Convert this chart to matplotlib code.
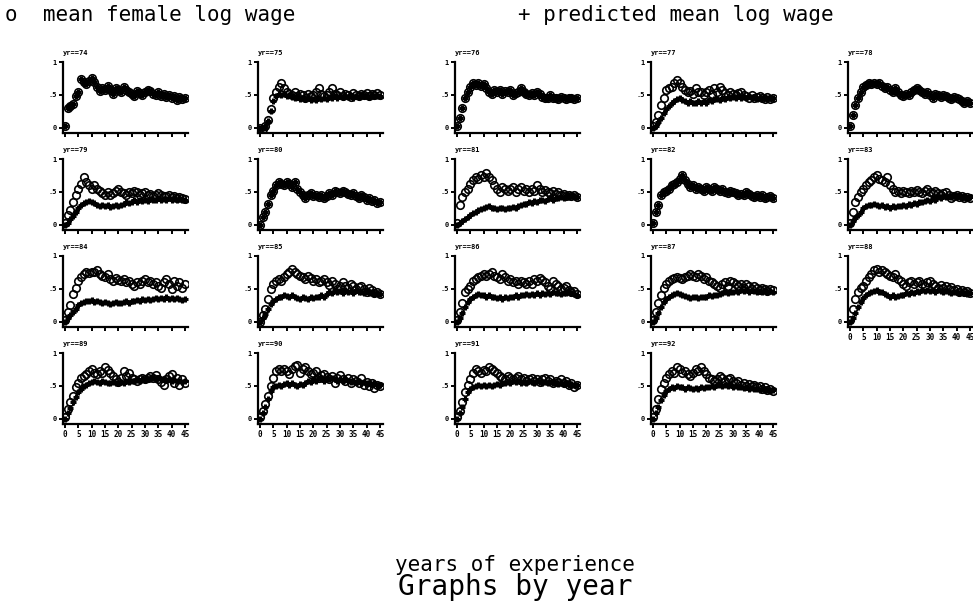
import matplotlib.pyplot as plt

experience = list(range(46))
years = [74, 75, 76, 77, 78, 79, 80, 81, 82, 83, 84, 85, 86, 87, 88, 89, 90, 91, 92]

# mean female log wage (circles) and predicted mean log wage (plus), by experience 0..45
wage_74 = [0.02, 0.30, 0.33, 0.36, 0.48, 0.55, 0.74, 0.69, 0.67, 0.71, 0.76, 0.70, 0.62, 0.56, 0.60, 0.57,
           0.63, 0.58, 0.52, 0.60, 0.57, 0.54, 0.62, 0.58, 0.55, 0.52, 0.48, 0.56, 0.53, 0.50, 0.55, 0.58,
           0.56, 0.52, 0.50, 0.54, 0.49, 0.51, 0.47, 0.50, 0.45, 0.49, 0.42, 0.47, 0.44, 0.46]
pred_74 = wage_74
wage_75 = [0.00, -0.02, 0.02, 0.12, 0.28, 0.45, 0.55, 0.62, 0.68, 0.60, 0.55, 0.52, 0.50, 0.55, 0.48, 0.52,
           0.50, 0.46, 0.52, 0.48, 0.50, 0.55, 0.60, 0.52, 0.48, 0.50, 0.55, 0.60, 0.52, 0.50, 0.54, 0.48,
           0.52, 0.50, 0.47, 0.53, 0.50, 0.48, 0.52, 0.50, 0.53, 0.48, 0.52, 0.50, 0.53, 0.50]
pred_75 = [0.00, 0.00, 0.02, 0.10, 0.25, 0.40, 0.48, 0.52, 0.50, 0.52, 0.48, 0.50, 0.47, 0.45, 0.48, 0.44,
           0.46, 0.43, 0.45, 0.42, 0.44, 0.42, 0.45, 0.43, 0.46, 0.44, 0.47, 0.45, 0.48, 0.46, 0.48, 0.47,
           0.49, 0.47, 0.48, 0.46, 0.49, 0.47, 0.50, 0.48, 0.49, 0.47, 0.50, 0.48, 0.49, 0.48]
wage_76 = [0.02, 0.15, 0.30, 0.45, 0.55, 0.62, 0.68, 0.65, 0.68, 0.64, 0.67, 0.60, 0.55, 0.52, 0.57, 0.55,
           0.58, 0.52, 0.56, 0.54, 0.57, 0.50, 0.53, 0.55, 0.60, 0.55, 0.52, 0.50, 0.53, 0.50, 0.55, 0.52,
           0.47, 0.45, 0.45, 0.50, 0.46, 0.45, 0.44, 0.47, 0.45, 0.44, 0.45, 0.46, 0.44, 0.45]
pred_76 = wage_76
wage_77 = [0.02, 0.08, 0.20, 0.35, 0.45, 0.58, 0.60, 0.62, 0.68, 0.72, 0.68, 0.62, 0.58, 0.55, 0.56, 0.52,
           0.60, 0.54, 0.55, 0.50, 0.55, 0.58, 0.52, 0.60, 0.55, 0.62, 0.58, 0.53, 0.50, 0.55, 0.52, 0.50,
           0.53, 0.55, 0.50, 0.48, 0.46, 0.50, 0.45, 0.47, 0.48, 0.45, 0.43, 0.47, 0.44, 0.46]
pred_77 = [0.00, 0.03, 0.08, 0.15, 0.22, 0.28, 0.33, 0.38, 0.41, 0.43, 0.45, 0.42, 0.40, 0.38, 0.40, 0.37,
           0.38, 0.40, 0.37, 0.40, 0.38, 0.42, 0.40, 0.43, 0.44, 0.42, 0.45, 0.43, 0.47, 0.45, 0.47, 0.46,
           0.48, 0.45, 0.47, 0.46, 0.48, 0.45, 0.47, 0.44, 0.46, 0.45, 0.47, 0.44, 0.46, 0.45]
wage_78 = [0.02, 0.20, 0.35, 0.45, 0.55, 0.62, 0.65, 0.68, 0.66, 0.68, 0.66, 0.68, 0.64, 0.60, 0.62, 0.58,
           0.55, 0.60, 0.55, 0.50, 0.48, 0.52, 0.50, 0.55, 0.58, 0.60, 0.57, 0.55, 0.52, 0.54, 0.50, 0.46,
           0.52, 0.50, 0.47, 0.50, 0.48, 0.46, 0.44, 0.47, 0.45, 0.43, 0.40, 0.38, 0.40, 0.38]
pred_78 = wage_78
wage_79 = [0.02, 0.15, 0.22, 0.35, 0.45, 0.55, 0.62, 0.72, 0.65, 0.60, 0.55, 0.60, 0.55, 0.52, 0.48, 0.45,
           0.50, 0.46, 0.48, 0.52, 0.55, 0.50, 0.48, 0.45, 0.50, 0.48, 0.52, 0.50, 0.46, 0.48, 0.50, 0.45,
           0.47, 0.44, 0.46, 0.48, 0.45, 0.43, 0.44, 0.46, 0.42, 0.44, 0.40, 0.42, 0.40, 0.39]
pred_79 = [0.00, 0.03, 0.08, 0.14, 0.20, 0.25, 0.30, 0.33, 0.35, 0.36, 0.35, 0.33, 0.30, 0.28, 0.30, 0.28,
           0.30, 0.27, 0.28, 0.30, 0.28, 0.30, 0.32, 0.35, 0.33, 0.35, 0.37, 0.35, 0.38, 0.36, 0.38, 0.36,
           0.39, 0.37, 0.38, 0.40, 0.37, 0.39, 0.38, 0.40, 0.38, 0.39, 0.37, 0.39, 0.38, 0.38]
wage_80 = [0.00, 0.12, 0.20, 0.32, 0.45, 0.52, 0.60, 0.65, 0.62, 0.60, 0.65, 0.62, 0.58, 0.65, 0.55, 0.50,
           0.45, 0.40, 0.45, 0.48, 0.43, 0.46, 0.42, 0.45, 0.40, 0.44, 0.48, 0.45, 0.52, 0.50, 0.48, 0.52,
           0.50, 0.47, 0.45, 0.48, 0.43, 0.40, 0.45, 0.42, 0.38, 0.40, 0.36, 0.38, 0.33, 0.35]
pred_80 = wage_80
wage_81 = [0.02, 0.30, 0.42, 0.50, 0.55, 0.62, 0.68, 0.72, 0.70, 0.75, 0.72, 0.78, 0.72, 0.68, 0.60, 0.55,
           0.50, 0.58, 0.55, 0.52, 0.55, 0.58, 0.50, 0.55, 0.58, 0.52, 0.55, 0.50, 0.55, 0.52, 0.60, 0.55,
           0.50, 0.53, 0.50, 0.48, 0.52, 0.47, 0.50, 0.45, 0.47, 0.44, 0.46, 0.43, 0.45, 0.42]
pred_81 = [0.00, 0.02, 0.05, 0.08, 0.12, 0.15, 0.18, 0.20, 0.22, 0.24, 0.25, 0.27, 0.28, 0.26, 0.25, 0.24,
           0.26, 0.25, 0.24, 0.26, 0.25, 0.27, 0.26, 0.29, 0.30, 0.32, 0.31, 0.34, 0.33, 0.36, 0.35, 0.37,
           0.38, 0.36, 0.39, 0.40, 0.38, 0.41, 0.40, 0.42, 0.41, 0.43, 0.42, 0.44, 0.43, 0.42]
wage_82 = [0.02, 0.20, 0.30, 0.45, 0.50, 0.52, 0.55, 0.60, 0.62, 0.65, 0.70, 0.75, 0.68, 0.62, 0.58, 0.60,
           0.55, 0.58, 0.55, 0.52, 0.58, 0.55, 0.52, 0.57, 0.55, 0.52, 0.54, 0.50, 0.48, 0.52, 0.50, 0.48,
           0.45, 0.47, 0.45, 0.50, 0.47, 0.44, 0.42, 0.45, 0.42, 0.45, 0.40, 0.42, 0.44, 0.40]
pred_82 = wage_82
wage_83 = [0.02, 0.20, 0.35, 0.42, 0.50, 0.55, 0.60, 0.65, 0.68, 0.72, 0.75, 0.70, 0.68, 0.65, 0.72, 0.60,
           0.55, 0.50, 0.52, 0.48, 0.52, 0.50, 0.48, 0.52, 0.50, 0.53, 0.50, 0.48, 0.52, 0.55, 0.50, 0.48,
           0.52, 0.48, 0.45, 0.48, 0.50, 0.45, 0.40, 0.43, 0.45, 0.42, 0.44, 0.40, 0.42, 0.40]
pred_83 = [0.00, 0.05, 0.10, 0.15, 0.20, 0.25, 0.28, 0.30, 0.30, 0.32, 0.30, 0.28, 0.30, 0.27, 0.28, 0.26,
           0.28, 0.27, 0.29, 0.28, 0.30, 0.29, 0.31, 0.30, 0.33, 0.32, 0.35, 0.34, 0.36, 0.38, 0.36, 0.40,
           0.38, 0.42, 0.40, 0.43, 0.42, 0.44, 0.42, 0.45, 0.43, 0.44, 0.42, 0.43, 0.41, 0.42]
wage_84 = [0.02, 0.15, 0.25, 0.42, 0.52, 0.62, 0.68, 0.72, 0.75, 0.74, 0.76, 0.75, 0.78, 0.72, 0.70, 0.68,
           0.72, 0.65, 0.62, 0.66, 0.64, 0.62, 0.65, 0.60, 0.62, 0.58, 0.55, 0.60, 0.58, 0.62, 0.65, 0.60,
           0.62, 0.58, 0.60, 0.55, 0.52, 0.60, 0.65, 0.58, 0.50, 0.62, 0.55, 0.60, 0.52, 0.58]
pred_84 = [0.00, 0.05, 0.10, 0.15, 0.20, 0.25, 0.28, 0.30, 0.32, 0.31, 0.33, 0.30, 0.31, 0.30, 0.28, 0.30,
           0.29, 0.27, 0.28, 0.30, 0.29, 0.28, 0.30, 0.31, 0.29, 0.32, 0.31, 0.33, 0.32, 0.34, 0.33, 0.35,
           0.33, 0.35, 0.36, 0.34, 0.36, 0.35, 0.37, 0.35, 0.36, 0.34, 0.36, 0.35, 0.33, 0.34]
wage_85 = [0.00, 0.10, 0.20, 0.35, 0.50, 0.58, 0.62, 0.65, 0.62, 0.68, 0.72, 0.75, 0.80, 0.76, 0.72, 0.70,
           0.68, 0.65, 0.70, 0.66, 0.62, 0.65, 0.60, 0.62, 0.65, 0.60, 0.56, 0.62, 0.58, 0.50, 0.55, 0.60,
           0.55, 0.52, 0.58, 0.55, 0.50, 0.53, 0.55, 0.50, 0.45, 0.52, 0.48, 0.44, 0.46, 0.42]
pred_85 = [0.00, 0.05, 0.12, 0.20, 0.27, 0.32, 0.35, 0.37, 0.38, 0.40, 0.39, 0.38, 0.40, 0.37, 0.36, 0.35,
           0.37, 0.36, 0.35, 0.37, 0.36, 0.38, 0.37, 0.40, 0.38, 0.42, 0.45, 0.43, 0.48, 0.45, 0.47, 0.44,
           0.48, 0.45, 0.47, 0.44, 0.48, 0.45, 0.46, 0.43, 0.47, 0.44, 0.45, 0.42, 0.44, 0.42]
wage_86 = [0.02, 0.15, 0.28, 0.45, 0.50, 0.55, 0.62, 0.65, 0.68, 0.70, 0.72, 0.70, 0.72, 0.75, 0.70, 0.68,
           0.65, 0.72, 0.68, 0.62, 0.65, 0.60, 0.62, 0.58, 0.62, 0.60, 0.58, 0.62, 0.58, 0.65, 0.62, 0.66,
           0.64, 0.60, 0.55, 0.50, 0.62, 0.58, 0.55, 0.50, 0.52, 0.55, 0.48, 0.45, 0.47, 0.42]
pred_86 = [0.00, 0.06, 0.13, 0.22, 0.30, 0.35, 0.38, 0.40, 0.42, 0.40, 0.41, 0.38, 0.40, 0.37, 0.38, 0.36,
           0.37, 0.35, 0.37, 0.36, 0.38, 0.37, 0.40, 0.38, 0.41, 0.40, 0.42, 0.40, 0.42, 0.41, 0.43, 0.41,
           0.43, 0.42, 0.44, 0.42, 0.45, 0.43, 0.44, 0.42, 0.44, 0.43, 0.45, 0.43, 0.42, 0.41]
wage_87 = [0.02, 0.15, 0.28, 0.40, 0.52, 0.58, 0.62, 0.65, 0.66, 0.68, 0.66, 0.65, 0.68, 0.70, 0.72, 0.70,
           0.68, 0.72, 0.70, 0.65, 0.68, 0.62, 0.60, 0.58, 0.55, 0.52, 0.58, 0.60, 0.55, 0.62, 0.60, 0.58,
           0.55, 0.57, 0.52, 0.58, 0.55, 0.50, 0.55, 0.52, 0.48, 0.52, 0.50, 0.47, 0.50, 0.48]
pred_87 = [0.00, 0.06, 0.14, 0.22, 0.30, 0.35, 0.38, 0.40, 0.42, 0.43, 0.42, 0.40, 0.39, 0.38, 0.36, 0.38,
           0.37, 0.36, 0.38, 0.37, 0.38, 0.40, 0.39, 0.41, 0.40, 0.42, 0.44, 0.45, 0.44, 0.46, 0.45, 0.47,
           0.46, 0.48, 0.47, 0.48, 0.46, 0.48, 0.47, 0.45, 0.47, 0.46, 0.48, 0.45, 0.47, 0.46]
wage_88 = [0.02, 0.20, 0.35, 0.45, 0.52, 0.55, 0.62, 0.68, 0.72, 0.78, 0.80, 0.76, 0.78, 0.75, 0.72, 0.70,
           0.68, 0.72, 0.65, 0.62, 0.58, 0.55, 0.60, 0.62, 0.58, 0.60, 0.62, 0.58, 0.55, 0.60, 0.62, 0.58,
           0.55, 0.52, 0.56, 0.52, 0.55, 0.50, 0.53, 0.48, 0.50, 0.46, 0.48, 0.45, 0.47, 0.44]
pred_88 = [0.00, 0.06, 0.14, 0.22, 0.30, 0.36, 0.40, 0.43, 0.45, 0.47, 0.48, 0.46, 0.45, 0.42, 0.40, 0.38,
           0.40, 0.38, 0.39, 0.40, 0.41, 0.43, 0.42, 0.45, 0.44, 0.47, 0.46, 0.48, 0.47, 0.49, 0.47, 0.48,
           0.46, 0.48, 0.47, 0.45, 0.47, 0.46, 0.44, 0.46, 0.45, 0.43, 0.45, 0.44, 0.42, 0.43]
wage_89 = [0.02, 0.15, 0.25, 0.35, 0.48, 0.55, 0.62, 0.65, 0.68, 0.72, 0.75, 0.70, 0.68, 0.72, 0.70, 0.78,
           0.74, 0.70, 0.65, 0.60, 0.56, 0.62, 0.72, 0.65, 0.70, 0.62, 0.60, 0.58, 0.60, 0.62, 0.60, 0.62,
           0.65, 0.62, 0.66, 0.60, 0.56, 0.52, 0.60, 0.65, 0.68, 0.55, 0.62, 0.52, 0.60, 0.55]
pred_89 = [0.00, 0.08, 0.16, 0.25, 0.33, 0.40, 0.45, 0.50, 0.52, 0.55, 0.56, 0.57, 0.56, 0.55, 0.57, 0.56,
           0.55, 0.54, 0.56, 0.55, 0.54, 0.56, 0.55, 0.57, 0.56, 0.58, 0.57, 0.59, 0.58, 0.60, 0.59, 0.61,
           0.60, 0.62, 0.61, 0.62, 0.60, 0.61, 0.59, 0.60, 0.58, 0.59, 0.57, 0.58, 0.56, 0.57]
wage_90 = [0.02, 0.12, 0.22, 0.35, 0.50, 0.62, 0.72, 0.75, 0.72, 0.75, 0.72, 0.68, 0.75, 0.80, 0.82, 0.70,
           0.75, 0.78, 0.72, 0.68, 0.70, 0.72, 0.62, 0.66, 0.68, 0.64, 0.60, 0.65, 0.55, 0.62, 0.66, 0.60,
           0.58, 0.62, 0.55, 0.60, 0.58, 0.55, 0.62, 0.52, 0.56, 0.50, 0.54, 0.47, 0.52, 0.50]
pred_90 = [0.00, 0.08, 0.18, 0.30, 0.42, 0.48, 0.50, 0.52, 0.50, 0.53, 0.55, 0.52, 0.54, 0.52, 0.50, 0.53,
           0.52, 0.55, 0.58, 0.56, 0.60, 0.58, 0.62, 0.60, 0.58, 0.62, 0.60, 0.62, 0.60, 0.58, 0.60, 0.58,
           0.60, 0.58, 0.56, 0.58, 0.56, 0.57, 0.55, 0.56, 0.54, 0.55, 0.53, 0.54, 0.52, 0.52]
wage_91 = [0.02, 0.12, 0.25, 0.40, 0.52, 0.60, 0.70, 0.75, 0.72, 0.70, 0.74, 0.72, 0.78, 0.75, 0.72, 0.70,
           0.65, 0.62, 0.60, 0.65, 0.62, 0.60, 0.62, 0.65, 0.60, 0.62, 0.58, 0.60, 0.62, 0.58, 0.60, 0.56,
           0.60, 0.62, 0.58, 0.60, 0.55, 0.58, 0.56, 0.60, 0.55, 0.58, 0.52, 0.55, 0.48, 0.52]
pred_91 = [0.00, 0.08, 0.18, 0.30, 0.40, 0.45, 0.48, 0.50, 0.52, 0.50, 0.52, 0.50, 0.52, 0.50, 0.51, 0.53,
           0.52, 0.55, 0.54, 0.56, 0.55, 0.57, 0.56, 0.57, 0.55, 0.56, 0.55, 0.57, 0.56, 0.55, 0.57, 0.56,
           0.54, 0.56, 0.55, 0.56, 0.54, 0.55, 0.53, 0.55, 0.53, 0.54, 0.52, 0.53, 0.51, 0.52]
wage_92 = [0.02, 0.15, 0.30, 0.45, 0.55, 0.62, 0.68, 0.72, 0.70, 0.78, 0.75, 0.70, 0.72, 0.68, 0.65, 0.70,
           0.75, 0.72, 0.78, 0.72, 0.68, 0.62, 0.60, 0.58, 0.60, 0.65, 0.62, 0.58, 0.60, 0.62, 0.57, 0.55,
           0.58, 0.52, 0.55, 0.50, 0.53, 0.50, 0.52, 0.48, 0.50, 0.46, 0.48, 0.44, 0.46, 0.42]
pred_92 = [0.00, 0.08, 0.18, 0.28, 0.36, 0.42, 0.45, 0.48, 0.47, 0.50, 0.49, 0.48, 0.46, 0.48, 0.47, 0.45,
           0.47, 0.46, 0.48, 0.47, 0.49, 0.48, 0.50, 0.49, 0.51, 0.52, 0.50, 0.52, 0.50, 0.51, 0.49, 0.50,
           0.48, 0.49, 0.47, 0.48, 0.46, 0.47, 0.45, 0.46, 0.44, 0.45, 0.43, 0.44, 0.42, 0.43]

mean_wage = {74: wage_74, 75: wage_75, 76: wage_76, 77: wage_77, 78: wage_78, 79: wage_79, 80: wage_80,
             81: wage_81, 82: wage_82, 83: wage_83, 84: wage_84, 85: wage_85, 86: wage_86, 87: wage_87,
             88: wage_88, 89: wage_89, 90: wage_90, 91: wage_91, 92: wage_92}
pred_wage = {74: pred_74, 75: pred_75, 76: pred_76, 77: pred_77, 78: pred_78, 79: pred_79, 80: pred_80,
             81: pred_81, 82: pred_82, 83: pred_83, 84: pred_84, 85: pred_85, 86: pred_86, 87: pred_87,
             88: pred_88, 89: pred_89, 90: pred_90, 91: pred_91, 92: pred_92}

x_ticks = [0, 5, 10, 15, 20, 25, 30, 35, 40, 45]
y_ticks = [0, 0.5, 1]
y_labels = ['0', '.5', '1']

W, H = 973, 609
fig = plt.figure(figsize=(W / 100, H / 100), dpi=100)
mono = 'DejaVu Sans Mono'

col_left = [63, 258, 455, 651, 848]
row_top = [62, 159, 256, 353]
ax_w, ax_h = 125, 71


def add_px_axes(left, top, w, h):
    return fig.add_axes([left / W, 1 - (top + h) / H, w / W, h / H])


for i, yr in enumerate(years):
    r, c = divmod(i, 5)
    ax = add_px_axes(col_left[c], row_top[r], ax_w, ax_h)
    ax.plot(experience, mean_wage[yr], linestyle='none', marker='o', ms=5.4,
            mfc='none', mec='black', mew=1.2)
    ax.plot(experience, pred_wage[yr], linestyle='none', marker='+', ms=5,
            mec='black', mew=2.2)
    ax.set_xlim(-0.8, 46.2)
    ax.set_ylim(-0.08, 1.0)
    for side in ['top', 'right']:
        ax.spines[side].set_visible(False)
    for side in ['left', 'bottom']:
        ax.spines[side].set_linewidth(1.6)
    ax.set_xticks(x_ticks)
    ax.set_yticks(y_ticks)
    ax.set_yticklabels(y_labels, fontsize=5, fontweight='bold', family=mono)
    ax.tick_params(direction='out', length=3, width=1.4, pad=1.5)
    labeled = (r == 3) or (yr == 88)
    if labeled:
        ax.set_xticklabels([str(t) for t in x_ticks], fontsize=5.5, fontweight='bold', family=mono)
    else:
        ax.set_xticklabels([])
    ax.text(0, 1.08, 'yr==%d' % yr, transform=ax.transAxes, fontsize=5, fontweight='bold',
            family=mono, ha='left', va='bottom')
    ax.patch.set_alpha(0)

fig.text(5 / W, 1 - 15 / H, 'o  mean female log wage', family=mono, fontsize=15, va='center', ha='left')
fig.text(518 / W, 1 - 15 / H, '+ predicted mean log wage', family=mono, fontsize=15, va='center', ha='left')
fig.text(515 / W, 1 - 565 / H, 'years of experience', family=mono, fontsize=15, va='center', ha='center')
fig.text(515 / W, 1 - 587 / H, 'Graphs by year', family=mono, fontsize=20, va='center', ha='center')

fig.savefig('out.png', dpi=100, facecolor='white')
